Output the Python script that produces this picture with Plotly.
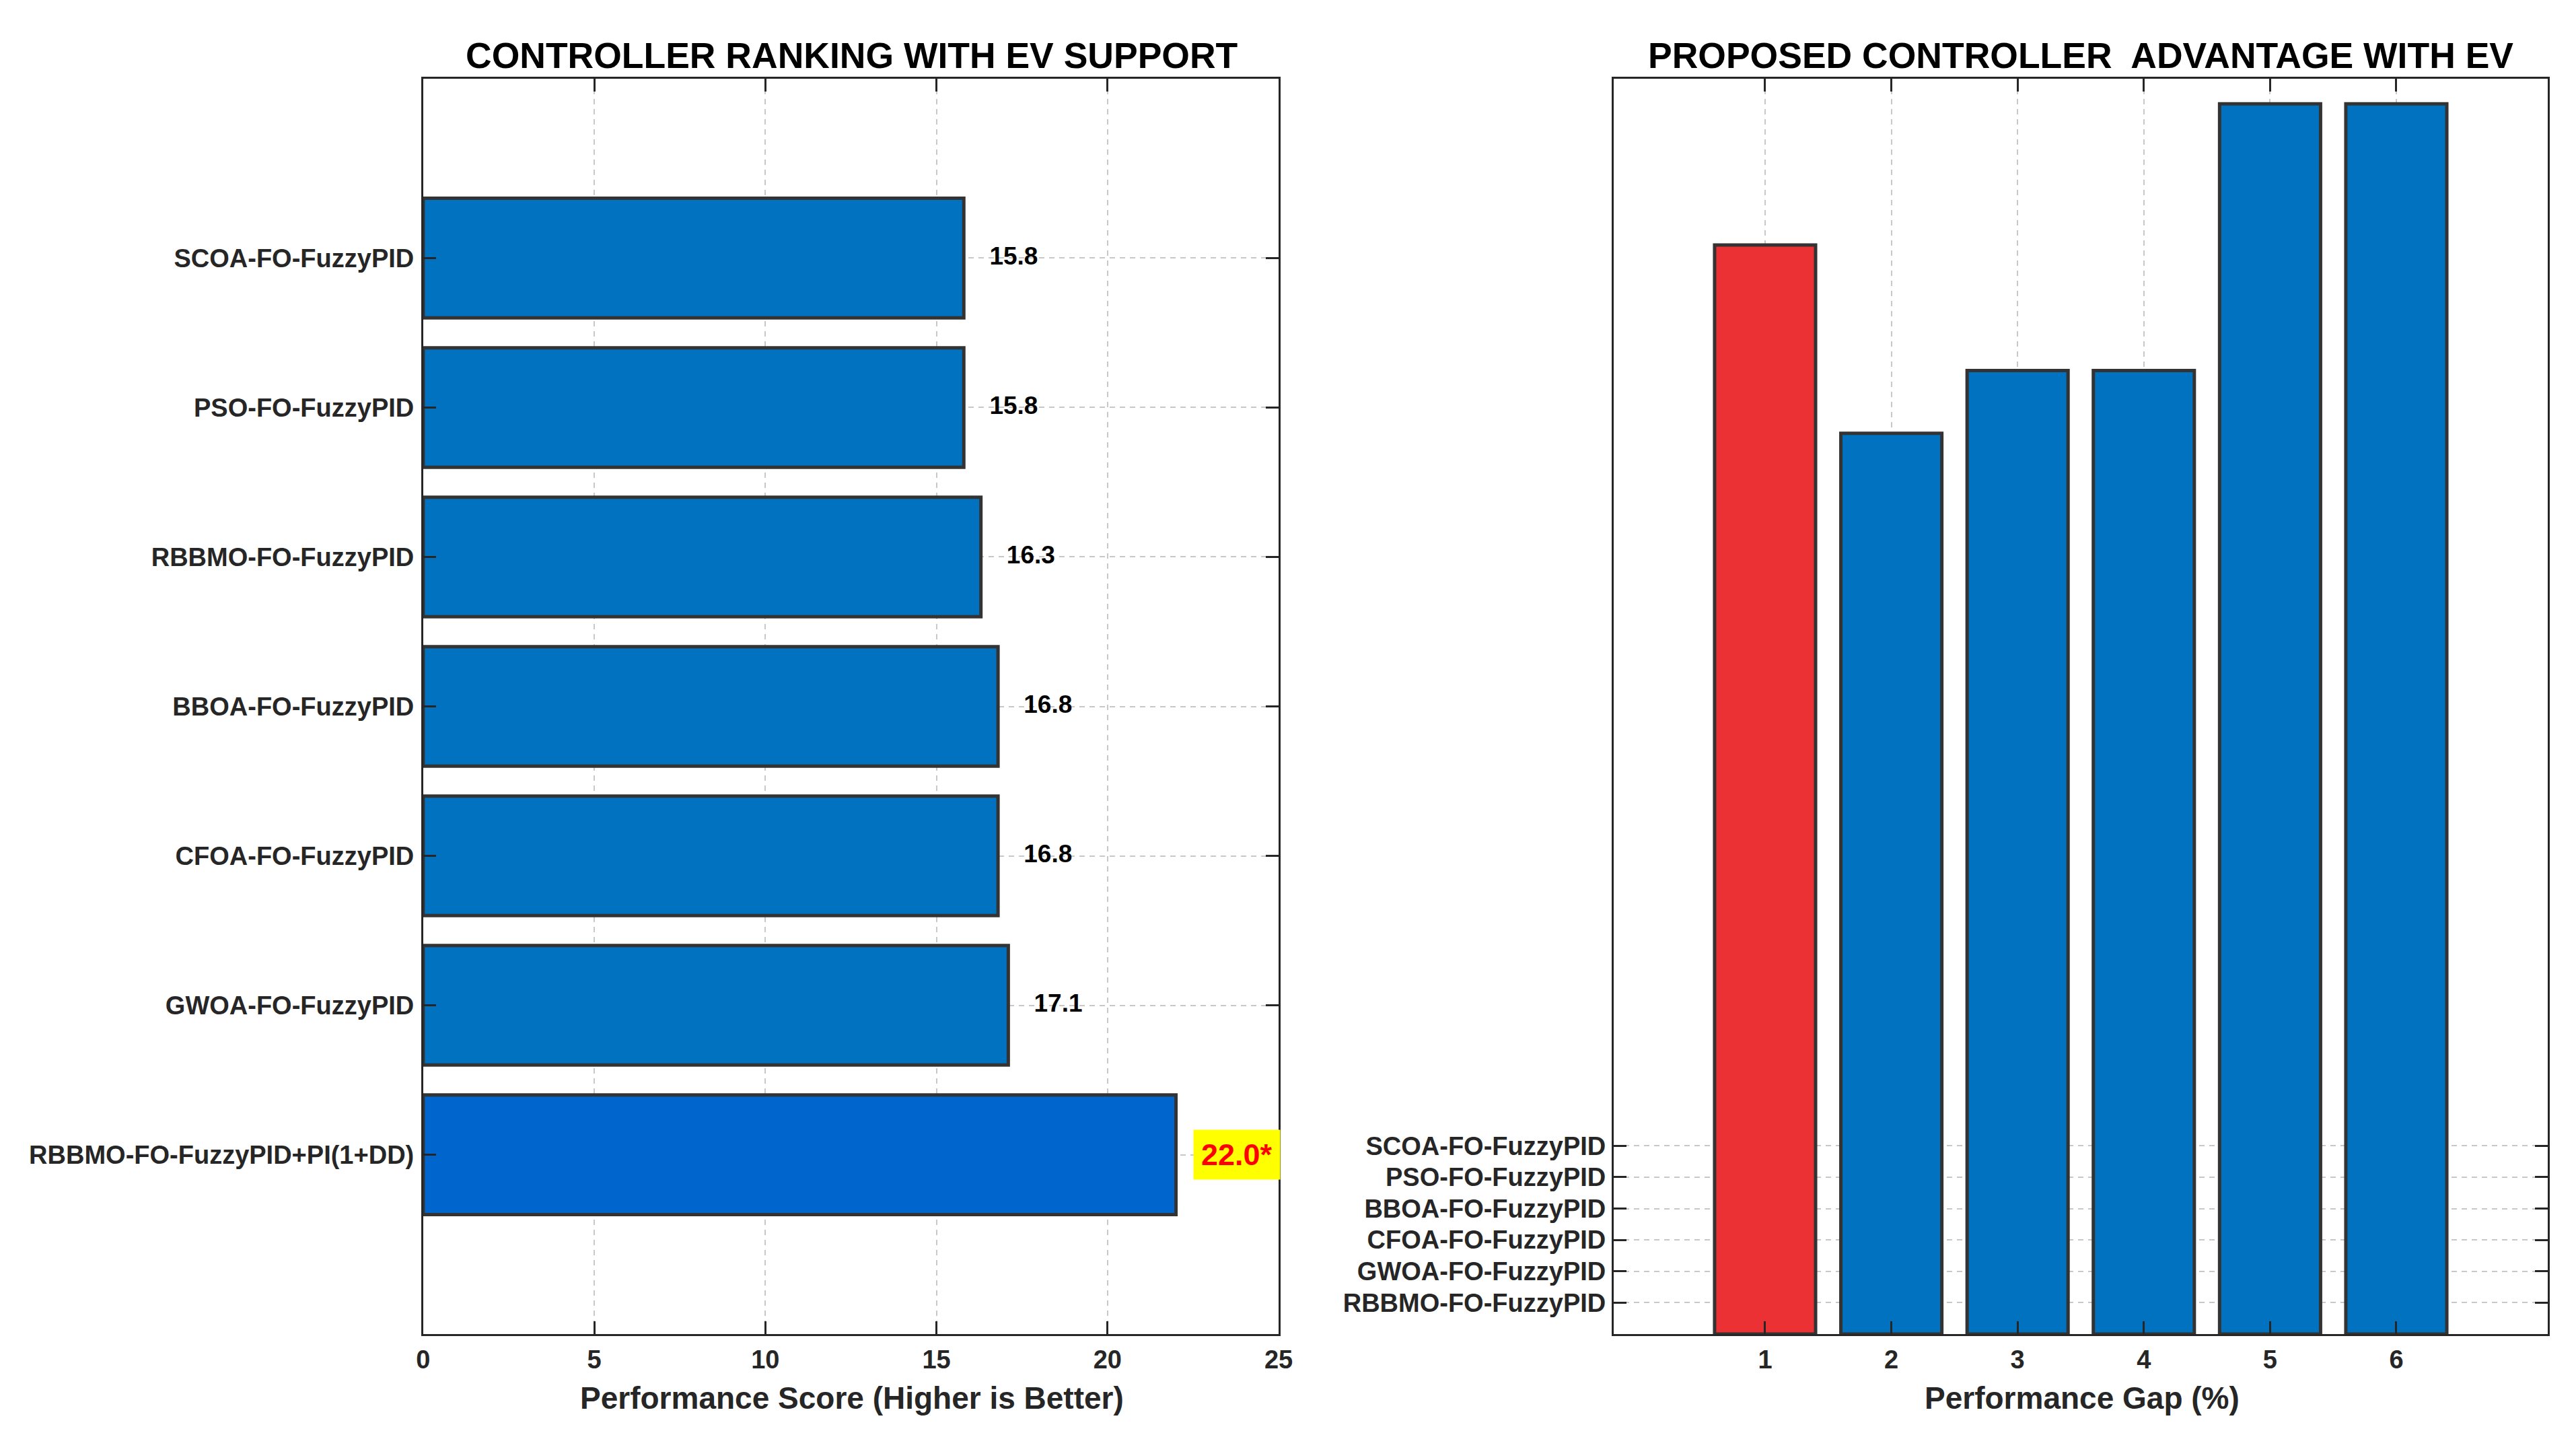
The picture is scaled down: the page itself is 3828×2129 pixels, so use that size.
import plotly.graph_objects as go

# ---------------- data ----------------
controllers = [
    "SCOA-FO-FuzzyPID",
    "PSO-FO-FuzzyPID",
    "RBBMO-FO-FuzzyPID",
    "BBOA-FO-FuzzyPID",
    "CFOA-FO-FuzzyPID",
    "GWOA-FO-FuzzyPID",
    "RBBMO-FO-FuzzyPID+PI(1+DD)",
]
scores = [15.8, 15.8, 16.3, 16.8, 16.8, 17.1, 22.0]
score_ticks = [0, 5, 10, 15, 20, 25]

gap_index = [1, 2, 3, 4, 5, 6]
gaps = [34.7, 28.7, 30.7, 30.7, 39.2, 39.2]
gap_tick_vals = [1, 2, 3, 4, 5, 6]
gap_tick_labels = [
    "RBBMO-FO-FuzzyPID",
    "GWOA-FO-FuzzyPID",
    "CFOA-FO-FuzzyPID",
    "BBOA-FO-FuzzyPID",
    "PSO-FO-FuzzyPID",
    "SCOA-FO-FuzzyPID",
]

# ---------------- style ----------------
OFF = 8                      # default page body margin
FW, FH = 3812, 2113
FONT = "Liberation Sans, Arial, Helvetica, sans-serif"
AX = "#262626"
BLUE = "#0072BF"
BLUE_BEST = "#0066CD"
RED = "#EC3134"
EDGE = "#333333"

positions = list(range(1, len(controllers) + 1))
best = len(controllers) - 1
left_colors = [BLUE_BEST if i == best else BLUE for i in range(len(controllers))]
right_colors = [RED] + [BLUE] * (len(gaps) - 1)


def px_x(p):
    return (p - OFF) / FW


def px_y(p):
    return 1 - (p - OFF) / FH


fig = go.Figure()

fig.add_trace(go.Bar(
    x=scores, y=positions, orientation="h", width=0.8,
    marker=dict(color=left_colors, line=dict(color=EDGE, width=5)),
    xaxis="x", yaxis="y", hoverinfo="skip",
))
fig.add_trace(go.Scatter(
    x=[s + 0.75 for s in scores[:best]], y=positions[:best], mode="text",
    text=[f"{s:.1f}" for s in scores[:best]], textposition="middle right",
    textfont=dict(family=FONT, size=37, color="black", weight="bold"),
    xaxis="x", yaxis="y", hoverinfo="skip",
))
fig.add_trace(go.Bar(
    x=gap_index, y=gaps, width=0.8,
    marker=dict(color=right_colors, line=dict(color=EDGE, width=5)),
    xaxis="x2", yaxis="y2", hoverinfo="skip",
))

common = dict(
    showline=True, linecolor=AX, linewidth=3, mirror="ticks",
    ticks="inside", ticklen=19, tickwidth=3, tickcolor=AX,
    showgrid=True, gridcolor="#C8C8C8", gridwidth=2, griddash="8px,7px",
    zeroline=False,
    tickfont=dict(family=FONT, size=38, color=AX, weight="bold"),
)

xl0, xl1 = 623, 1905
xr0, xr1 = 2407, 3807
yt, yb = 117, 1982

fig.update_layout(
    width=FW, height=FH, autosize=False,
    margin=dict(l=0, r=0, t=0, b=0, pad=0),
    paper_bgcolor="white", plot_bgcolor="white",
    showlegend=False,
    font=dict(family=FONT),
    xaxis=dict(domain=[px_x(xl0), px_x(xl1)], anchor="y", range=[0, 25],
               tickmode="array", tickvals=score_ticks, ticklabelstandoff=2, **common),
    yaxis=dict(domain=[px_y(yb), px_y(yt)], anchor="x", range=[8.2, -0.2],
               tickmode="array", tickvals=positions, ticktext=controllers,
               ticklabelstandoff=3, **common),
    xaxis2=dict(domain=[px_x(xr0), px_x(xr1)], anchor="y2", range=[-0.2, 7.2],
                tickmode="array", tickvals=gap_index, ticklabelstandoff=2, **common),
    yaxis2=dict(domain=[px_y(yb), px_y(yt)], anchor="x2", range=[0, 40],
                tickmode="array", tickvals=gap_tick_vals, ticktext=gap_tick_labels,
                ticklabelstandoff=1, **common),
)

ann = []
ann.append(dict(
    x=scores[best] + 0.5, y=positions[best], xref="x", yref="y",
    text=f"{scores[best]:.1f}*", showarrow=False, xanchor="left", yanchor="middle",
    bgcolor="#FFFF00", borderpad=11,
    font=dict(family=FONT, size=45, color="#FF0000", weight="bold"),
))
ann.append(dict(
    x=px_x(1266), y=px_y(82), xref="paper", yref="paper",
    text="CONTROLLER RANKING WITH EV SUPPORT", showarrow=False,
    xanchor="center", yanchor="middle",
    font=dict(family=FONT, size=53.5, color="black", weight="bold"),
))
ann.append(dict(
    x=px_x(3107), y=px_y(82), xref="paper", yref="paper",
    text="PROPOSED CONTROLLER\u00a0 ADVANTAGE WITH EV", showarrow=False,
    xanchor="center", yanchor="middle",
    font=dict(family=FONT, size=53.5, color="black", weight="bold"),
))
ann.append(dict(
    x=px_x(1266), y=px_y(2077), xref="paper", yref="paper",
    text="Performance Score (Higher is Better)", showarrow=False,
    xanchor="center", yanchor="middle",
    font=dict(family=FONT, size=46, color=AX, weight="bold"),
))
ann.append(dict(
    x=px_x(3109), y=px_y(2077), xref="paper", yref="paper",
    text="Performance Gap (%)", showarrow=False,
    xanchor="center", yanchor="middle",
    font=dict(family=FONT, size=46, color=AX, weight="bold"),
))
fig.update_layout(annotations=ann)

fig.write_html("out.html")
